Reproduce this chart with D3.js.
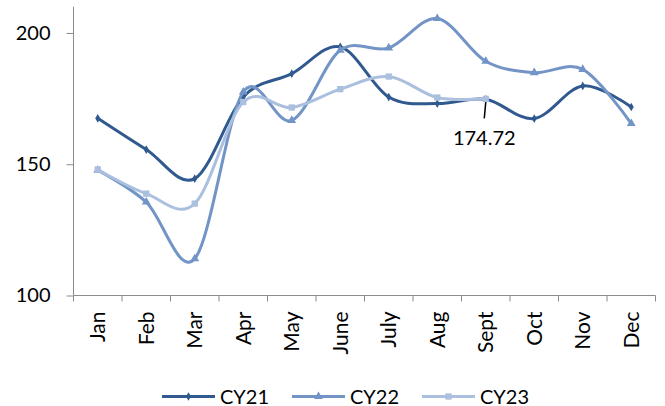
<!DOCTYPE html>
<html>
<head>
<meta charset="utf-8">
<script src="https://cdn.jsdelivr.net/npm/d3@7"></script>
<style>
  body { margin: 0; background: #fff; }
  text { font-family: Lato, "Open Sans", sans-serif; fill: #000; }
</style>
</head>
<body>
<div id="chart"></div>
<script>
// data
const months = ["Jan","Feb","Mar","Apr","May","June","July","Aug","Sept","Oct","Nov","Dec"];
const cy21 = [167.5, 155.6, 144.5, 175.6, 184.5, 194.7, 175.6, 173.1, 174.72, 167.4, 179.8, 171.8];
const cy22 = [147.7, 135.6, 114.0, 177.5, 166.7, 193.4, 194.3, 205.5, 189.2, 184.9, 186.1, 165.5];
const cy23 = [148.0, 138.8, 135.0, 173.7, 171.6, 178.6, 183.4, 175.4, 174.9];
const yTicks = [100, 150, 200];

const series = [
  {name: "CY21", values: cy21, color: "#30598f", symbol: d3.symbolDiamond, size: 22},
  {name: "CY22", values: cy22, color: "#7394c6", symbol: d3.symbolTriangle, size: 34},
  {name: "CY23", values: cy23, color: "#abc0de", symbol: d3.symbolSquare, size: 40}
];

const width = 665, height = 406;
const svg = d3.select("#chart").append("svg")
  .attr("width", width).attr("height", height);

const x = d3.scaleBand().domain(months).range([73.5, 655.5]);
const y = d3.scaleLinear().domain([100, 210]).range([295.5, 6.7]);
const cx = m => x(m) + x.bandwidth() / 2;

// y axis
const yAxis = svg.append("g").attr("transform", "translate(73.5,0)")
  .call(d3.axisLeft(y).tickValues(yTicks).tickSize(7).tickPadding(16).tickFormat(d3.format("d")));
yAxis.select(".domain").attr("stroke", "#8c8c8c").attr("d", "M0," + y(210) + "V" + y(100));
yAxis.selectAll(".tick line").attr("stroke", "#8c8c8c");
yAxis.selectAll("text").style("font-size", "20px").style("font-family", "Lato");

// x axis with ticks on category boundaries
const xg = svg.append("g").attr("transform", "translate(0,295.5)");
xg.append("line").attr("x1", 73.5).attr("x2", 655.5).attr("stroke", "#8c8c8c");
xg.selectAll(".bt").data(months.concat(["end"])).enter().append("line")
  .attr("x1", (d, i) => i < 12 ? x(d) : x.range()[1])
  .attr("x2", (d, i) => i < 12 ? x(d) : x.range()[1])
  .attr("y1", 0).attr("y2", 6).attr("stroke", "#8c8c8c");
xg.selectAll(".ml").data(months).enter().append("text")
  .attr("transform", d => "translate(" + cx(d) + ",16) rotate(-90)")
  .attr("text-anchor", "end")
  .attr("dy", "0.35em")
  .style("font-size", "21px")
  .text(d => d);

// lines
const line = d3.line()
  .x((d, i) => cx(months[i]))
  .y(d => y(d))
  .curve(d3.curveCardinal.tension(0));

series.forEach(s => {
  svg.append("path")
    .datum(s.values)
    .attr("fill", "none")
    .attr("stroke", s.color)
    .attr("stroke-width", 3)
    .attr("d", line);
  svg.selectAll(null).data(s.values).enter().append("path")
    .attr("transform", (d, i) => "translate(" + cx(months[i]) + "," + y(d) + ")")
    .attr("d", d3.symbol().type(s.symbol).size(s.size))
    .attr("fill", s.color);
});

// data label for Sept CY21
const lx = cx("Sept"), ly = y(cy21[8]);
svg.append("line")
  .attr("x1", lx).attr("y1", ly + 3)
  .attr("x2", lx - 1.5).attr("y2", ly + 19)
  .attr("stroke", "#000").attr("stroke-width", 1.5);
svg.append("text")
  .attr("x", lx - 1.5).attr("y", ly + 46)
  .attr("text-anchor", "middle")
  .style("font-size", "20px")
  .text(d3.format(".2f")(cy21[8]));

// legend
const legendX = [162, 292, 422];
series.forEach((s, i) => {
  const g = svg.append("g").attr("transform", "translate(" + legendX[i] + ",396.5)");
  g.append("line").attr("x1", 0).attr("x2", 53).attr("stroke", s.color).attr("stroke-width", 3);
  g.append("path").attr("transform", "translate(26.5,0)")
    .attr("d", d3.symbol().type(s.symbol).size(s.size)).attr("fill", s.color);
  g.append("text").attr("x", 58).attr("dy", "0.35em").style("font-size", "20px").text(s.name);
});
</script>
</body>
</html>
